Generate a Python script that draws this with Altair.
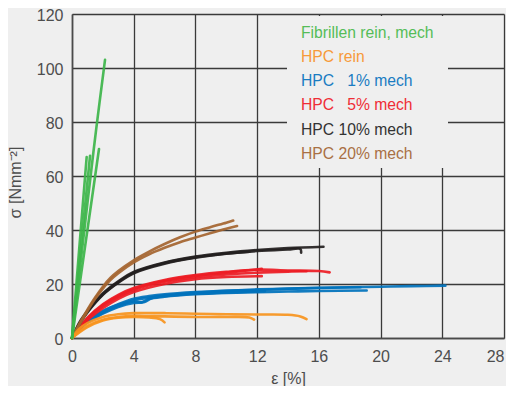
import altair as alt
import pandas as pd

# ---------------- data ----------------
materials = ["fib", "rein", "m1", "m5", "m10", "m20"]
line_colors = ["#3db54a", "#f7941d", "#0072bc", "#ed1c24", "#231f20", "#a4642f"]
legend_labels = ["Fibrillen rein, mech", "HPC rein", "HPC \u00a0\u00a01% mech",
                 "HPC \u00a0\u00a05% mech", "HPC 10% mech", "HPC 20% mech"]
legend_colors = ["#55bd58", "#f79a3a", "#1a7cc2", "#ef2d36", "#333333", "#a97044"]

x_ticks = [0, 4, 8, 12, 16, 20, 24, 28]
y_ticks = [0, 20, 40, 60, 80, 100, 120]

# Fibrillen rein, mech
g1_x = [0, 0.95]
g1_y = [0, 67]
g2_x = [0, 1.17]
g2_y = [0, 67.5]
g3_x = [0, 1.0, 1.56, 2.14]
g3_y = [0, 50, 77, 103]
g4_x = [0, 1.75]
g4_y = [0, 70]

# HPC rein
o1_x = [0, 0.5, 1, 2, 3, 4, 6, 8, 10, 12, 14, 14.8, 15.2]
o1_y = [0, 3.5, 5.5, 7.8, 8.8, 9.2, 9.2, 9.0, 8.8, 8.7, 8.6, 8.0, 7.0]
o2_x = [0, 1, 2, 3, 4, 6, 8, 10, 11.5, 11.8]
o2_y = [0, 4.5, 6.8, 7.8, 8.2, 8.0, 7.8, 7.8, 7.6, 6.8]
o3_x = [0, 1, 2, 3, 4, 5, 5.7, 6.0]
o3_y = [0, 4.0, 6.5, 7.5, 7.8, 7.6, 7.0, 5.8]

# HPC 1% mech
b1_x = [0, 0.5, 1, 2, 3, 4, 5, 6, 8, 10, 12, 14, 16, 18, 20, 22, 24.2]
b1_y = [0, 4, 6.5, 10, 12.5, 14.5, 15.5, 16.2, 17, 17.5, 17.8, 18.2, 18.5, 18.8, 19, 19.2, 19.4]
b2_x = [0, 1, 2, 3, 4, 4.5, 5, 6, 8, 10, 12, 14, 16, 19.1]
b2_y = [0, 6, 9.3, 11.8, 13.5, 13.2, 14.5, 15.3, 16.2, 16.7, 17, 17.2, 17.4, 17.6]
b3_x = [0, 1, 2, 3, 4, 6, 8, 10, 12, 14, 16, 18.7]
b3_y = [0, 6.2, 9.8, 12.3, 14, 15.8, 16.8, 17.5, 18, 18.3, 18.6, 18.8]
b4_x = [0, 1, 2, 3, 4, 4.7, 5.2, 7, 9, 11, 12.5]
b4_y = [0, 5.8, 9, 11.5, 13, 13.3, 14.8, 16, 16.6, 17.1, 17.3]

# HPC 5% mech
r1_x = [0, 0.5, 1, 2, 3, 4, 6, 8, 10, 12, 14, 16, 16.7]
r1_y = [0, 4, 7.5, 12.5, 16, 18.5, 21.5, 23.3, 24.5, 25.3, 25, 24.8, 24.3]
r2_x = [0, 1, 2, 3, 4, 6, 8, 10, 12, 14, 15.2]
r2_y = [0, 7, 11.8, 15.2, 17.8, 20.8, 22.5, 23.5, 24.2, 24.6, 24.7]
r3_x = [0, 1, 2, 3, 4, 6, 8, 10, 12.3]
r3_y = [0, 6.5, 11, 14.5, 17, 20, 21.8, 22.6, 22.9]
r4_x = [0, 1, 2, 3, 4, 6, 8, 10, 12.3]
r4_y = [0, 7.2, 12.2, 15.6, 18.2, 21.2, 23, 24.2, 25.6]

# HPC 10% mech
k1_x = [0, 0.5, 1, 2, 3, 4, 6, 8, 10, 12, 14, 16.3]
k1_y = [0, 6, 10, 16.5, 21, 24.5, 28, 30.2, 31.6, 32.6, 33.3, 33.8]
k2_x = [0, 0.5, 1, 2, 3, 4, 6, 8, 10, 12, 14, 14.8, 14.85]
k2_y = [0, 5.5, 9.5, 16, 20.5, 24, 27.5, 29.7, 31.2, 32.2, 32.8, 33, 31.6]
k3_x = [0, 1, 2, 3, 4, 6, 8, 10, 11.5]
k3_y = [0, 9.8, 16.2, 20.7, 24.2, 27.8, 29.9, 31.3, 32]

# HPC 20% mech
w1_x = [0, 0.5, 1, 1.5, 2, 2.5, 3, 4, 5, 6, 7, 8, 9, 10, 10.45]
w1_y = [0, 5.5, 10.5, 15, 19, 22.3, 24.8, 28.8, 32, 34.8, 37.3, 39.4, 41.1, 42.7, 43.5]
w2_x = [0, 0.5, 1, 1.5, 2, 2.5, 3, 4, 5, 6, 7, 8, 9, 10, 10.7]
w2_y = [0, 5, 10, 14.5, 18.3, 21.5, 24, 28, 31, 33.4, 35.5, 37.2, 38.9, 40.5, 41.5]

curves = [
    ("m1", b1_x, b1_y), ("m1", b2_x, b2_y), ("m1", b3_x, b3_y), ("m1", b4_x, b4_y),
    ("m5", r1_x, r1_y), ("m5", r2_x, r2_y), ("m5", r3_x, r3_y), ("m5", r4_x, r4_y),
    ("m10", k1_x, k1_y), ("m10", k2_x, k2_y), ("m10", k3_x, k3_y),
    ("m20", w1_x, w1_y), ("m20", w2_x, w2_y),
    ("rein", o1_x, o1_y), ("rein", o2_x, o2_y), ("rein", o3_x, o3_y),
    ("fib", g1_x, g1_y), ("fib", g2_x, g2_y), ("fib", g3_x, g3_y), ("fib", g4_x, g4_y),
]

rows = []
for ci, (mat, xs, ys) in enumerate(curves):
    for k, (xv, yv) in enumerate(zip(xs, ys)):
        rows.append({"curve": ci, "material": mat, "x": xv, "y": yv, "k": k})
df = pd.DataFrame(rows)

df_leg = pd.DataFrame({"label": legend_labels, "i": list(range(len(legend_labels))),
                       "mat": materials})

FONT = "Liberation Sans"

x_axis = alt.Axis(values=x_ticks, grid=True, gridColor="#3a3a3a", gridWidth=1.3,
                  domainColor="#4a4a4a", domainWidth=1.6, ticks=False,
                  labelFontSize=16, labelColor="#4d4d4d", labelFont=FONT,
                  labelPadding=10,
                  labelAlign=alt.condition("datum.value == 28", alt.value("right"), alt.value("center")),
                  title="\u03b5  [%]", titleFont=FONT, titleFontSize=16,
                  titleColor="#4d4d4d", titleFontWeight="normal",
                  titleX=216, titleY=40, titleBaseline="middle", titleAlign="center")
y_axis = alt.Axis(values=y_ticks, grid=True, gridColor="#3a3a3a", gridWidth=1.3,
                  domainColor="#4a4a4a", domainWidth=1.6, ticks=False,
                  labelFontSize=16, labelColor="#4d4d4d", labelFont=FONT,
                  labelPadding=9, labelOffset=1,
                  title="\u03c3 [Nmm\u207b\u00b2]", titleFont=FONT, titleFontSize=16,
                  titleColor="#4d4d4d", titleFontWeight="normal",
                  titleX=-57, titleY=168, titleAngle=270,
                  titleBaseline="middle", titleAlign="center")

lines = alt.Chart(df).mark_line(strokeWidth=2.6, opacity=0.92, strokeCap="round",
                                strokeJoin="round", interpolate="catmull-rom").encode(
    x=alt.X("x:Q", scale=alt.Scale(domain=[0, 28], nice=False), axis=x_axis),
    y=alt.Y("y:Q", scale=alt.Scale(domain=[0, 120], nice=False), axis=y_axis),
    color=alt.Color("material:N", scale=alt.Scale(domain=materials, range=line_colors),
                    legend=None),
    detail="curve:N",
    order="k:Q",
)

box = alt.Chart(pd.DataFrame({"a": [0]})).mark_rect(fill="#efefef").encode(
    x=alt.value(215), x2=alt.value(376), y=alt.value(2), y2=alt.value(154)
)

legend = alt.Chart(df_leg).transform_calculate(
    py="18.7 + datum.i * 24.2"
).mark_text(align="left", baseline="middle", font=FONT, fontSize=15.7).encode(
    x=alt.value(229),
    y=alt.Y("py:Q", scale=None, axis=None),
    text="label:N",
    color=alt.Color("mat:N", scale=alt.Scale(domain=materials, range=legend_colors),
                    legend=None),
)

chart = alt.layer(box, lines, legend).resolve_scale(color="independent").properties(
    width=432, height=324,
    autosize=alt.AutoSizeParams(type="none"),
    padding={"left": 64, "top": 6, "right": 2, "bottom": 48},
    background="#efefef",
).configure_view(stroke=None)

chart.save("out.html", embed_options={"renderer": "svg", "actions": False})
